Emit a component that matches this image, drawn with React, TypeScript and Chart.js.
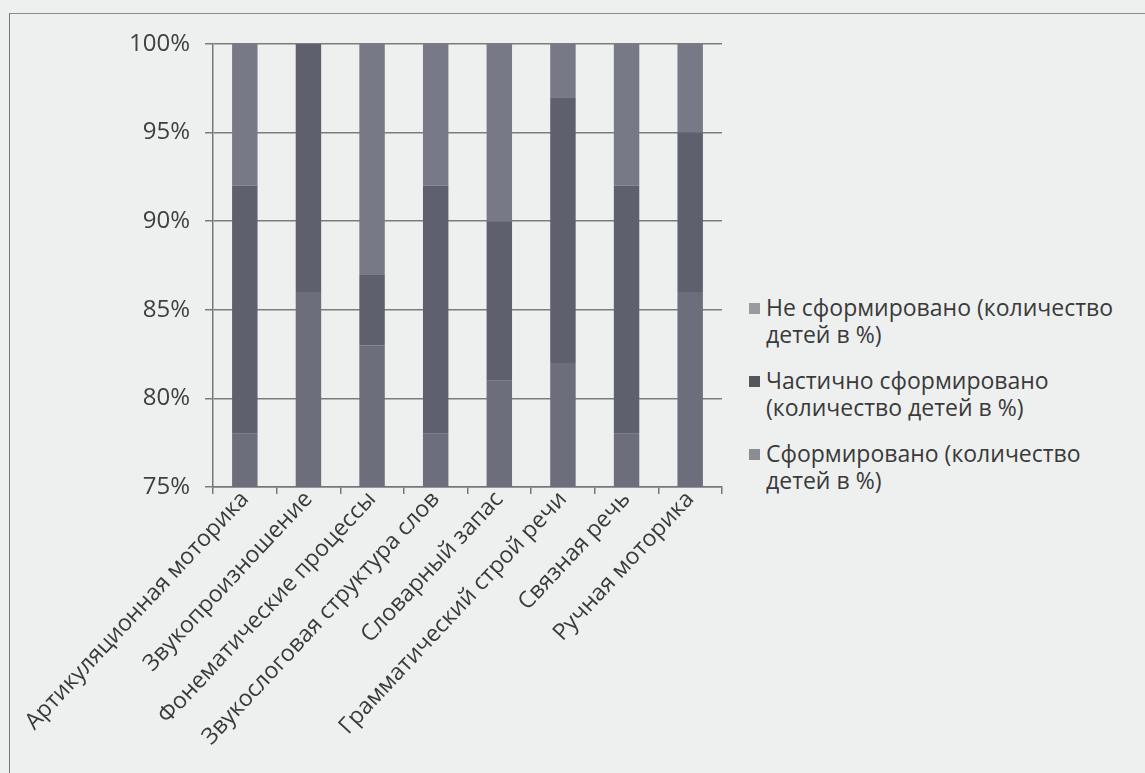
import React, { useEffect, useRef } from "react";
import { Chart, registerables } from "chart.js";

Chart.register(...registerables);

const categories = [
  "Артикуляционная моторика",
  "Звукопроизношение",
  "Фонематические процессы",
  "Звукослоговая структура слов",
  "Словарный запас",
  "Грамматический строй речи",
  "Связная речь",
  "Ручная моторика",
];

const seriesNames = [
  "Сформировано (количество детей в %)",
  "Частично сформировано (количество детей в %)",
  "Не сформировано (количество детей в %)",
];

const formed = [78, 86, 83, 78, 81, 82, 78, 86];
const partlyFormed = [14, 14, 4, 14, 9, 15, 14, 9];
const notFormed = [8, 0, 13, 8, 10, 3, 8, 5];

const yTicks = [75, 80, 85, 90, 95, 100];

const seriesColors = ["#6c6e7c", "#5e606e", "#777987"];
const legendColors = ["#9a9b9e", "#55565c", "#8c8d92"];

const legendLines: string[][] = [
  ["Не сформировано (количество", "детей в %)"],
  ["Частично сформировано", "(количество детей в %)"],
  ["Сформировано (количество", "детей в %)"],
];

const FONT = "'Open Sans', 'Noto Sans', sans-serif";

export default function App() {
  const ref = useRef<HTMLCanvasElement | null>(null);

  useEffect(() => {
    if (!ref.current) return;
    const values = [formed, partlyFormed, notFormed];
    const chart = new Chart(ref.current, {
      type: "bar",
      data: {
        labels: categories,
        datasets: values.map((v, i) => ({
          label: seriesNames[i],
          data: v,
          backgroundColor: seriesColors[i],
          borderWidth: 0,
          barPercentage: 0.4,
          categoryPercentage: 1,
        })),
      },
      options: {
        animation: false,
        responsive: false,
        maintainAspectRatio: false,
        layout: { padding: { top: 44, right: 18, left: 0, bottom: 0 } },
        plugins: {
          legend: { display: false },
          tooltip: { enabled: false },
        },
        scales: {
          x: {
            stacked: true,
            grid: {
              offset: true,
              drawOnChartArea: false,
              drawTicks: true,
              tickLength: 7,
              color: "#777",
              lineWidth: 1.5,
            },
            border: { display: true, color: "#777", width: 1.5 },
            ticks: {
              minRotation: 47,
              maxRotation: 47,
              autoSkip: false,
              padding: -8,
              color: "#3a3a3a",
              font: { family: FONT, size: 23 },
            },
            afterFit: (s: any) => {
              s.height = 286;
            },
          },
          y: {
            stacked: true,
            min: yTicks[0],
            max: yTicks[yTicks.length - 1],
            afterBuildTicks: (s: any) => {
              s.ticks = yTicks.map((v) => ({ value: v }));
            },
            ticks: {
              callback: (v: any) => v + "%",
              padding: 15,
              color: "#404040",
              font: { family: FONT, size: 24 },
            },
            grid: {
              color: "#7c7c7c",
              lineWidth: 1.5,
              tickLength: 8,
            },
            border: { display: true, color: "#777", width: 1.5 },
            afterFit: (s: any) => {
              s.width = 213;
            },
          },
        },
      },
    });
    return () => chart.destroy();
  }, []);

  return (
    <div
      style={{
        position: "absolute",
        left: 0,
        top: 0,
        width: 1145,
        height: 773,
        background: "#eef0ef",
        overflow: "hidden",
      }}
    >
      <div
        style={{
          position: "absolute",
          left: 9,
          top: 13,
          width: 1200,
          height: 800,
          borderLeft: "1.5px solid #7a7a7a",
          borderTop: "1.5px solid #8a8a8a",
        }}
      />
      <canvas
        ref={ref}
        width={740}
        height={773}
        style={{ position: "absolute", left: 0, top: 0, width: 740, height: 773 }}
      />
      <div
        style={{
          position: "absolute",
          left: 748,
          top: 294,
          fontFamily: FONT,
          fontSize: 23,
          lineHeight: "27px",
          color: "#3a3a3a",
        }}
      >
        {legendLines.map((lines, i) => (
          <div key={i} style={{ marginBottom: 19, position: "relative", paddingLeft: 18 }}>
            <span
              style={{
                position: "absolute",
                left: 1,
                top: 9,
                width: 11,
                height: 11,
                background: legendColors[i],
              }}
            />
            {lines.map((l, j) => (
              <div key={j} style={{ whiteSpace: "nowrap" }}>
                {l}
              </div>
            ))}
          </div>
        ))}
      </div>
    </div>
  );
}
